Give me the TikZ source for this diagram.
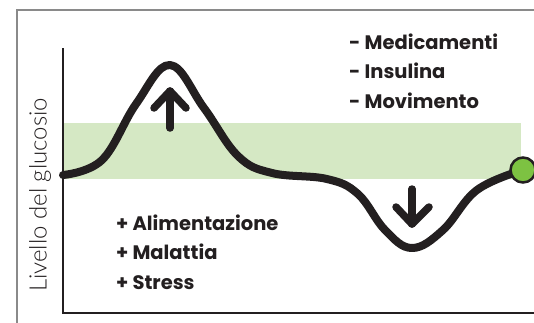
\documentclass[tikz,border=0pt]{standalone}
\usepackage{fontspec}
\setmainfont{Poppins}[Ligatures=NoCommon]
\newfontfamily\lightfont{Lato Light}
\definecolor{ink}{HTML}{231F20}
\definecolor{band}{HTML}{D5E8C4}
\definecolor{dot}{HTML}{7DC242}
\definecolor{framegray}{HTML}{8A8A8A}
\begin{document}
\begin{tikzpicture}[x=1pt,y=-1pt,
  curve/.style={line width=8pt,draw=ink,line cap=round,line join=round},
  arr/.style={line width=7.5pt,draw=ink,line cap=round,line join=round},
  lbl/.style={font=\bfseries\fontsize{19.5}{29.5}\selectfont,text=ink,align=left,anchor=west,inner sep=0pt}]
\useasboundingbox (0,0) rectangle (534,322);
\fill[white] (0,0) rectangle (534,322);
% frame
\draw[framegray,line width=1.3pt] (17,330) -- (17,10) -- (545,10);
% band
\fill[band] (63,123) rectangle (521,179);
% axes
\draw[ink,line width=2.5pt] (63,48) -- (63,313) -- (540,313);
% curve
\coordinate (s) at (63,175);
\coordinate (e) at (523,170);
\draw[curve] plot[smooth,tension=0.65] coordinates {(s) (102,160) (136,104) (170,65) (204,108) (238,156) (272,173) (327,179) (358,194) (385,230) (412,248) (443,230) (477,190) (e)};
% end dot
\node[circle,fill=dot,draw=ink,line width=2.5pt,minimum size=25pt,inner sep=0pt] (d) at (e) {};
% arrows
\coordinate (u1) at (170,128);
\coordinate (u2) at (170,91);
\draw[arr] (u1) -- (u2);
\draw[arr] (154,108) -- (u2) -- (186,108);
\coordinate (d1) at (412,189);
\coordinate (d2) at (412,224);
\draw[arr] (d1) -- (d2);
\draw[arr] (396,207) -- (d2) -- (429,207);
% texts
\node[lbl] (t1) at (349,71) {- Medicamenti\\- Insulina\\- Movimento};
\node[lbl] (t2) at (116,252) {+ Alimentazione\\+ Malattia\\+ Stress};
\node[font=\lightfont\fontsize{24}{24}\selectfont,text=ink,rotate=90,inner sep=0pt] (y) at (40,195) {Livello del glucosio};
\end{tikzpicture}
\end{document}
